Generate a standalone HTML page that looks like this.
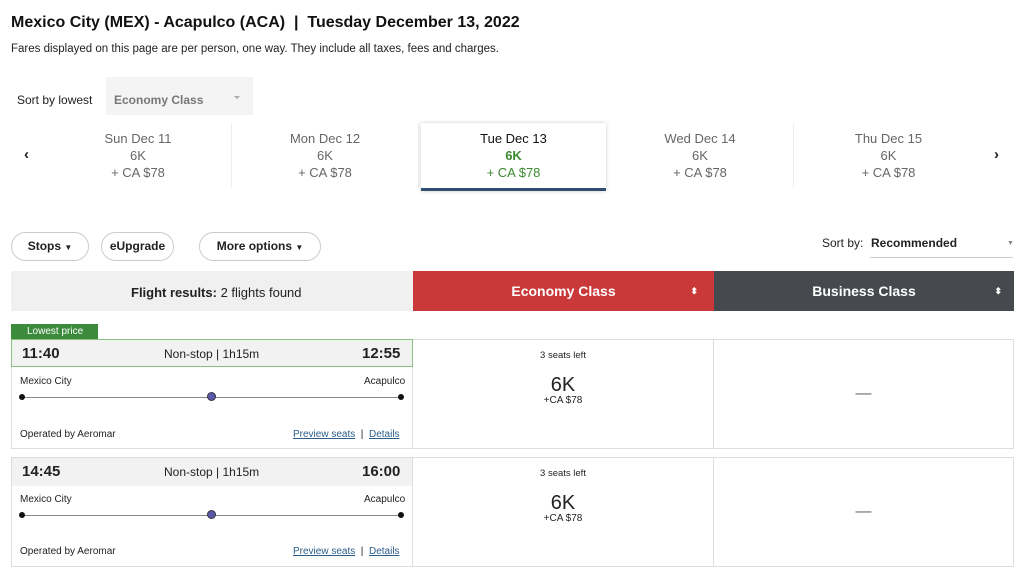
<!DOCTYPE html>
<html><head><meta charset="utf-8"><style>
*{margin:0;padding:0;box-sizing:border-box}
body{width:1024px;height:574px;background:#fff;font-family:"Liberation Sans",sans-serif;color:#222;position:relative;overflow:hidden}
.a{position:absolute;white-space:nowrap}
.tab{position:absolute;top:123px;width:187px;height:65px;text-align:center;color:#666;font-size:13px;line-height:17px;padding-top:7px}
.pill{position:absolute;top:232px;height:29px;border:1px solid #ccc;border-radius:15px;font-size:12px;font-weight:bold;line-height:27px;text-align:center;color:#222}
.box{position:absolute;border:1px solid #ddd}
.dot{position:absolute;width:6px;height:6px;border-radius:50%;background:#111}
.line{position:absolute;height:1px;background:#888}
.mid{position:absolute;width:9px;height:9px;border-radius:50%;background:#5a5aa8;border:1px solid #334}
a{color:#2b5c8a;text-decoration:underline}
</style></head><body>
<div class="a" style="left:11px;top:14px;font-size:16px;font-weight:bold;color:#111">Mexico City (MEX) - Acapulco (ACA) &nbsp;| &nbsp;Tuesday December 13, 2022</div>
<div class="a" style="left:11px;top:43px;font-size:11.5px;color:#222">Fares displayed on this page are per person, one way. They include all taxes, fees and charges.</div>
<div class="a" style="left:17px;top:93px;font-size:12px">Sort by lowest</div>
<div class="a" style="left:106px;top:77px;width:147px;height:38px;background:#f4f4f4"></div>
<div class="a" style="left:114px;top:93px;font-size:12px;color:#777;font-weight:bold">Economy Class</div>
<div class="a" style="left:234px;top:96px;border-left:3px solid transparent;border-right:3px solid transparent;border-top:3px solid #aaa"></div>

<div class="a" style="left:24px;top:146px;font-size:15px;font-weight:bold">‹</div>
<div class="a" style="left:994px;top:146px;font-size:15px;font-weight:bold">›</div>
<div class="tab" style="left:45px;border-right:1px solid #eee">Sun Dec 11<br>6K<br>+ CA $78</div>
<div class="tab" style="left:232px;border-right:1px solid #eee">Mon Dec 12<br>6K<br>+ CA $78</div>
<div class="tab" style="left:421px;width:185px;box-shadow:0 0 4px rgba(0,0,0,.2);border-bottom:3px solid #2d4e6e;height:68px;color:#111">Tue Dec 13<br><b style="color:#3b8a2e">6K</b><br><span style="color:#3b8a2e">+ CA $78</span></div>
<div class="tab" style="left:607px;border-right:1px solid #eee">Wed Dec 14<br>6K<br>+ CA $78</div>
<div class="tab" style="left:795px">Thu Dec 15<br>6K<br>+ CA $78</div>

<div class="pill" style="left:11px;width:78px">Stops <span style="font-size:8px">▼</span></div>
<div class="pill" style="left:101px;width:73px">eUpgrade</div>
<div class="pill" style="left:199px;width:122px">More options <span style="font-size:8px">▼</span></div>
<div class="a" style="left:822px;top:236px;font-size:12px">Sort by:</div>
<div class="a" style="left:871px;top:236px;font-size:12px;font-weight:bold">Recommended</div>
<div class="a" style="left:1007px;top:240px;font-size:7px;color:#888">▼</div>
<div class="a" style="left:870px;top:257px;width:143px;height:1px;background:#ccc"></div>

<div class="a" style="left:11px;top:271px;width:402px;height:40px;background:#f0f0f0"></div>
<div class="a" style="left:131px;top:285px;font-size:13px"><b>Flight results:</b> 2 flights found</div>
<div class="a" style="left:413px;top:271px;width:301px;height:40px;background:#c9393a;color:#fff;font-size:14px;font-weight:bold;text-align:center;line-height:40px">Economy Class<span style="position:absolute;right:16px;font-size:9px">⬍</span></div>
<div class="a" style="left:714px;top:271px;width:300px;height:40px;background:#46494e;color:#fff;font-size:14px;font-weight:bold;text-align:center;line-height:40px">Business Class<span style="position:absolute;right:12px;font-size:9px">⬍</span></div>

<div class="a" style="left:11px;top:324px;width:87px;height:15px;background:#3c8a3c;color:#fff;font-size:10px;padding-left:16px;line-height:15px">Lowest price</div>

<div class="box" style="left:11px;top:339px;width:402px;height:110px"></div>
<div class="a" style="left:11px;top:339px;width:402px;height:28px;background:#f2f2f2;border:1px solid #8cbf84"></div>
<div class="a" style="left:22px;top:345px;font-size:15px;font-weight:bold">11:40</div>
<div class="a" style="left:164px;top:347px;font-size:12px">Non-stop | 1h15m</div>
<div class="a" style="left:362px;top:345px;font-size:15px;font-weight:bold">12:55</div>
<div class="a" style="left:20px;top:376px;font-size:10px">Mexico City</div>
<div class="a" style="left:364px;top:376px;font-size:10px">Acapulco</div>
<div class="line" style="left:22px;top:397px;width:380px"></div>
<div class="dot" style="left:19px;top:394px"></div><div class="dot" style="left:398px;top:394px"></div>
<div class="mid" style="left:207px;top:392px"></div>
<div class="a" style="left:20px;top:429px;font-size:10px">Operated by Aeromar</div>
<div class="a" style="left:293px;top:429px;font-size:10px"><a>Preview seats</a> &nbsp;| &nbsp;<a>Details</a></div>
<div class="box" style="left:413px;top:339px;width:301px;height:110px;border-left:none;text-align:center">
<div style="font-size:9.5px;margin-top:10px">3 seats left</div>
<div style="font-size:20px;margin-top:14px;line-height:20px">6K</div>
<div style="font-size:10px">+CA $78</div></div>
<div class="box" style="left:713px;top:339px;width:301px;height:110px;text-align:center;line-height:108px;color:#666">—</div>

<div class="box" style="left:11px;top:457px;width:402px;height:110px"></div>
<div class="a" style="left:12px;top:458px;width:400px;height:28px;background:#f2f2f2"></div>
<div class="a" style="left:22px;top:463px;font-size:15px;font-weight:bold">14:45</div>
<div class="a" style="left:164px;top:465px;font-size:12px">Non-stop | 1h15m</div>
<div class="a" style="left:362px;top:463px;font-size:15px;font-weight:bold">16:00</div>
<div class="a" style="left:20px;top:494px;font-size:10px">Mexico City</div>
<div class="a" style="left:364px;top:494px;font-size:10px">Acapulco</div>
<div class="line" style="left:22px;top:515px;width:380px"></div>
<div class="dot" style="left:19px;top:512px"></div><div class="dot" style="left:398px;top:512px"></div>
<div class="mid" style="left:207px;top:510px"></div>
<div class="a" style="left:20px;top:546px;font-size:10px">Operated by Aeromar</div>
<div class="a" style="left:293px;top:546px;font-size:10px"><a>Preview seats</a> &nbsp;| &nbsp;<a>Details</a></div>
<div class="box" style="left:413px;top:457px;width:301px;height:110px;border-left:none;text-align:center">
<div style="font-size:9.5px;margin-top:10px">3 seats left</div>
<div style="font-size:20px;margin-top:14px;line-height:20px">6K</div>
<div style="font-size:10px">+CA $78</div></div>
<div class="box" style="left:713px;top:457px;width:301px;height:110px;text-align:center;line-height:108px;color:#666">—</div>
</body></html>
